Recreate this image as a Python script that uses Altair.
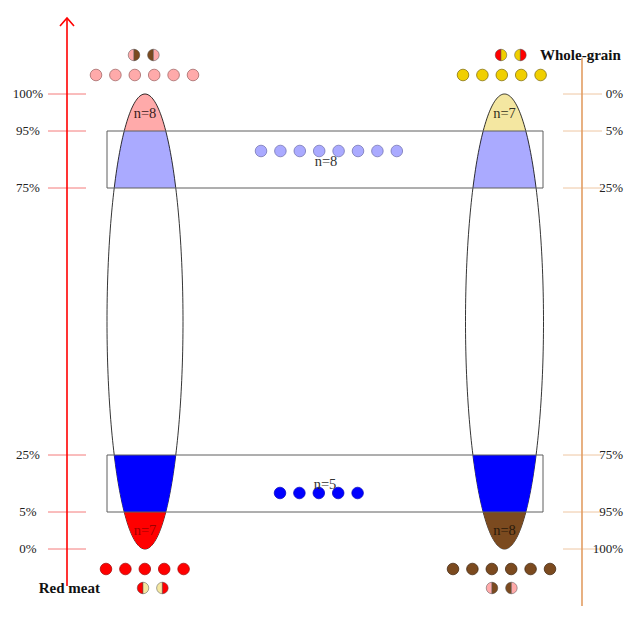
import altair as alt
import numpy as np
import pandas as pd

# ---------------- data ----------------
LEFT_LABELS = ["0%", "5%", "25%", "75%", "95%", "100%"]      # Red meat scale, bottom -> top
RIGHT_LABELS = ["100%", "95%", "75%", "25%", "5%", "0%"]     # Whole-grain scale, bottom -> top
AXIS_TITLES = ["Red meat", "Whole-grain"]
CAP_N = [8, 7, 7, 8]            # left-top, left-bottom, right-top, right-bottom
BOX_N = [8, 5]                  # top box, bottom box
ROW_COUNTS = [6, 5, 8, 5, 5, 6]  # left-top, right-top, mid-top, mid-bottom, left-bottom, right-bottom
HALF_COUNTS = [2, 2, 2, 2]       # split dots: left-top, right-top, left-bottom, right-bottom

# ---------------- layout (page pixel frame) ----------------
W, H = 616, 598
LEVEL_Y = [549, 512, 455, 188, 131, 94]     # row of each level, bottom -> top
ELL = [dict(cx=145.0, rx=38.0), dict(cx=504.5, rx=39.0)]
CY = (LEVEL_Y[0] + LEVEL_Y[-1]) / 2
RY = (LEVEL_Y[0] - LEVEL_Y[-1]) / 2
BOX_X = (107, 543)
STEP = 19.4
LEFT_AX_X, RIGHT_AX_X = 67, 582

PINK, LBLUE, BLUE, RED, BROWN, CREAM, GOLD = (
    "#FFAAAA", "#AAAAFF", "#0000FF", "#FF0000", "#7B4A1F", "#F4E7A1", "#F0CF00")

xs = alt.Scale(domain=[8, 8 + W], nice=False, zero=False)
ys = alt.Scale(domain=[8, 8 + H], nice=False, zero=False, reverse=True)
FONT = "Liberation Serif"


def X(f="x", **k):
    return alt.X(f + ":Q", scale=xs, axis=None, **k)


def Y(f="y", **k):
    return alt.Y(f + ":Q", scale=ys, axis=None, **k)


def half_w(y, rx):
    t = 1 - ((y - CY) / RY) ** 2
    return rx * np.sqrt(np.clip(t, 0, None))


# ---- bands inside the ellipses, built from 1-px slabs ----
band_defs = [  # (ellipse, lower level idx, upper level idx, colour, dark?)
    (0, 4, 5, PINK, False), (0, 3, 4, LBLUE, False), (0, 1, 2, BLUE, True), (0, 0, 1, RED, True),
    (1, 4, 5, CREAM, False), (1, 3, 4, LBLUE, False), (1, 1, 2, BLUE, True), (1, 0, 1, BROWN, True),
]
rows = []
for b, (e, lo, hi, col, dark) in enumerate(band_defs):
    cx, rx = ELL[e]["cx"], ELL[e]["rx"]
    ytop, ybot = LEVEL_Y[hi], LEVEL_Y[lo]
    for yy in range(ytop, ybot):
        hw = half_w(yy + 0.5, rx)
        if hw <= 0:
            continue
        rows.append(dict(x=cx - hw, x2=cx + hw, y=yy, y2=yy + 1, fill=col, dark=int(dark)))
bands = pd.DataFrame(rows)


def band_layer(dark):
    return alt.Chart(bands[bands.dark == int(dark)]).mark_rect(opacity=1, strokeWidth=0).encode(
        x=X(), x2="x2:Q", y=Y(), y2="y2:Q", fill=alt.Fill("fill:N", scale=None))


# ---- ellipse outlines ----
rows = []
for e, d in enumerate(ELL):
    for i, t in enumerate(np.linspace(0, 2 * np.pi, 241)):
        rows.append(dict(e=e, i=i, x=d["cx"] + d["rx"] * np.cos(t), y=CY + RY * np.sin(t)))
outline = alt.Chart(pd.DataFrame(rows)).mark_line(color="black", strokeWidth=0.8).encode(
    x=X(), y=Y(), detail="e:N", order="i:Q")

# ---- boxes ----
boxes = pd.DataFrame([
    dict(x=BOX_X[0], x2=BOX_X[1], y=LEVEL_Y[4], y2=LEVEL_Y[3]),
    dict(x=BOX_X[0], x2=BOX_X[1], y=LEVEL_Y[2], y2=LEVEL_Y[1]),
])
box_layer = alt.Chart(boxes).mark_rect(fillOpacity=0, stroke="#5f5f5f", strokeWidth=1).encode(
    x=X(), x2="x2:Q", y=Y(), y2="y2:Q")

# ---- axes ----
ticks = pd.DataFrame(
    [dict(x=48, x2=86, y=yy, c="#F47A7A") for yy in LEVEL_Y] +
    [dict(x=563, x2=602, y=yy, c="#EEC6A2") for yy in LEVEL_Y])
tick_layer = alt.Chart(ticks).mark_rule(strokeWidth=1).encode(
    x=X(), x2="x2:Q", y=Y(), color=alt.Color("c:N", scale=None))

axes = pd.DataFrame([dict(x=LEFT_AX_X, y=19, y2=586, c="#FF0000"),
                     dict(x=RIGHT_AX_X, y=58, y2=620, c="#E29D62")])
axis_layer = alt.Chart(axes).mark_rule(strokeWidth=1.6).encode(
    x=X(), y=Y(), y2="y2:Q", color=alt.Color("c:N", scale=None))

arrows = pd.DataFrame([
    dict(a=0, i=0, x=LEFT_AX_X - 7, y=26, c="#FF0000"), dict(a=0, i=1, x=LEFT_AX_X, y=18, c="#FF0000"),
    dict(a=0, i=2, x=LEFT_AX_X + 7, y=26, c="#FF0000"),
    dict(a=1, i=0, x=RIGHT_AX_X - 7, y=612, c="#E29D62"), dict(a=1, i=1, x=RIGHT_AX_X, y=620, c="#E29D62"),
    dict(a=1, i=2, x=RIGHT_AX_X + 7, y=612, c="#E29D62"),
])
arrow_layer = alt.Chart(arrows).mark_line(strokeWidth=1.6).encode(
    x=X(), y=Y(), detail="a:N", order="i:Q", color=alt.Color("c:N", scale=None))

left_labels = pd.DataFrame([dict(x=28, y=yy, t=t) for yy, t in zip(LEVEL_Y, LEFT_LABELS)])
right_labels = pd.DataFrame([dict(x=623, y=yy, t=t) for yy, t in zip(LEVEL_Y, RIGHT_LABELS)])
label_layers = [
    alt.Chart(df).mark_text(font=FONT, fontSize=13, color="#222", align=a,
                            baseline="middle").encode(x=X(), y=Y(), text="t:N")
    for df, a in [(left_labels, "center"), (right_labels, "right")]]

titles = pd.DataFrame([dict(x=100, y=588, t=AXIS_TITLES[0], a="right"),
                       dict(x=540, y=55, t=AXIS_TITLES[1], a="left")])
title_layers = [
    alt.Chart(titles[titles.a == a]).mark_text(font=FONT, fontSize=15, fontWeight="bold", color="#111",
                                                align=a, baseline="middle").encode(x=X(), y=Y(), text="t:N")
    for a in ["right", "left"]]

# ---- n = labels ----
ntext = pd.DataFrame([
    dict(x=ELL[0]["cx"], y=114, t=f"n={CAP_N[0]}", c="#3a2020"),
    dict(x=ELL[0]["cx"], y=531, t=f"n={CAP_N[1]}", c="#A00000"),
    dict(x=ELL[1]["cx"], y=114, t=f"n={CAP_N[2]}", c="#333322"),
    dict(x=ELL[1]["cx"], y=531, t=f"n={CAP_N[3]}", c="#2a1a0a"),
    dict(x=326, y=162, t=f"n={BOX_N[0]}", c="#333333"),
    dict(x=325, y=485, t=f"n={BOX_N[1]}", c="#333333"),
])
n_layer = alt.Chart(ntext).mark_text(font=FONT, fontSize=14.5, align="center", baseline="middle").encode(
    x=X(), y=Y(), text="t:N", color=alt.Color("c:N", scale=None))

# ---- dots ----
row_specs = [  # (start x, y, fill, stroke)
    (96, 75, PINK, "#9a5a5a"), (463, 75, GOLD, "#7a6500"), (261, 151, LBLUE, "#6a6aaa"),
    (280, 493, BLUE, "#0000bb"), (106, 569, RED, "#a00000"), (453, 569, BROWN, "#3a2008"),
]
rows = []
for (sx, yy, f, s), n in zip(row_specs, ROW_COUNTS):
    for k in range(n):
        rows.append(dict(x=sx + k * STEP, y=yy, f=f, s=s))
dots = alt.Chart(pd.DataFrame(rows)).mark_point(shape="circle", filled=True, size=135, opacity=1,
                                                strokeWidth=0.7).encode(
    x=X(), y=Y(), fill=alt.Fill("f:N", scale=None), stroke=alt.Stroke("s:N", scale=None))

half_specs = [  # (start x, y, first colour (left of 1st dot), second colour)
    (134, 55, PINK, BROWN), (501, 55, RED, GOLD), (143, 588, RED, CREAM), (492, 588, PINK, BROWN),
]
rows = []
for (sx, yy, c1, c2), n in zip(half_specs, HALF_COUNTS):
    for k in range(n):
        left, right = (c1, c2) if k % 2 == 0 else (c2, c1)
        rows.append(dict(x=sx + k * STEP, y=yy, l=left, r=right))
halves = pd.DataFrame(rows)
LEFT_HALF = "M0,-1A1,1,0,0,0,0,1Z"
RIGHT_HALF = "M0,-1A1,1,0,0,1,0,1Z"
half_layers = [
    alt.Chart(halves).mark_point(shape=shp, filled=True, size=135, opacity=1, stroke="#555",
                                 strokeWidth=0.5).encode(
        x=X(), y=Y(), fill=alt.Fill(fld + ":N", scale=None))
    for shp, fld in [(LEFT_HALF, "l"), (RIGHT_HALF, "r")]]

chart = alt.layer(
    band_layer(False), outline, band_layer(True), box_layer, tick_layer, axis_layer, arrow_layer,
    *label_layers, *title_layers, dots, *half_layers, n_layer,
).properties(width=W, height=H, padding=0, autosize="none", background="white").configure_view(stroke=None)

chart.save("out.html", embed_options={"renderer": "svg", "actions": False})
